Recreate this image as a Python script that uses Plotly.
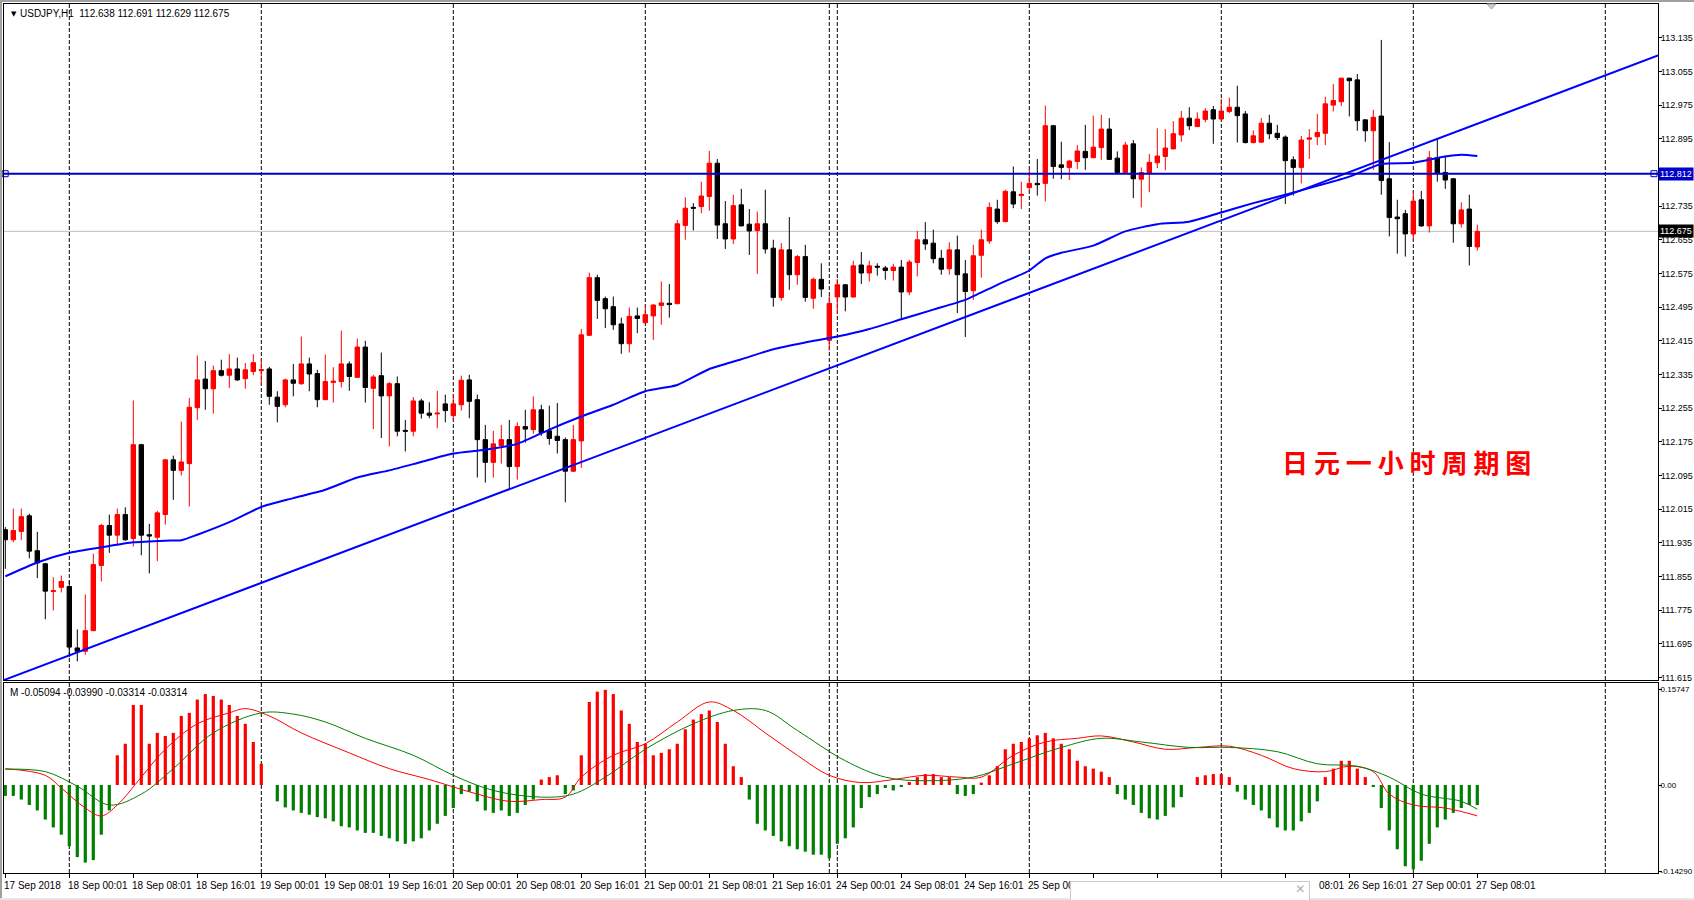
import plotly.graph_objects as go

# ---------------- DATA ----------------
open_ = [111.966,111.942,111.962,111.999,111.916,111.885,111.819,111.829,111.831,111.685,
111.677,111.726,111.881,111.976,111.953,112.002,111.945,112.168,111.954,111.948,
112.002,112.132,112.107,112.123,112.256,112.324,112.301,112.344,112.333,112.348,
112.325,112.342,112.344,112.348,112.281,112.263,112.322,112.313,112.360,112.337,
112.275,112.316,112.318,112.360,112.328,112.400,112.302,112.332,112.284,112.313,
112.202,112.200,112.272,112.243,112.241,112.265,112.237,112.263,112.322,112.275,
112.180,112.126,112.166,112.180,112.116,112.211,112.204,112.251,112.201,112.188,
112.180,112.105,112.177,112.428,112.565,112.515,112.496,112.455,112.408,112.474,
112.458,112.474,112.499,112.504,112.503,112.689,112.732,112.734,112.758,112.837,
112.693,112.657,112.738,112.692,112.677,112.693,112.635,112.518,112.631,112.572,
112.615,112.516,112.561,112.416,112.519,112.548,112.519,112.595,112.576,112.592,
112.588,112.582,112.590,112.531,112.601,112.655,112.647,112.611,112.586,112.631,
112.574,112.534,112.618,112.652,112.728,112.698,112.769,112.760,112.779,112.789,
112.789,112.926,112.833,112.827,112.841,112.865,112.850,112.874,112.918,112.849,
112.815,112.883,112.799,112.813,112.838,112.853,112.871,112.904,112.944,112.924,
112.941,112.964,112.942,112.960,112.970,112.954,112.886,112.887,112.932,112.908,
112.899,112.845,112.827,112.894,112.900,112.908,112.975,112.983,113.039,113.035,
112.940,112.914,112.949,112.800,112.709,112.717,112.669,112.750,112.688,112.850,
112.815,112.800,112.693,112.728,112.638]
high = [111.972,112.016,112.016,112.004,111.961,111.887,111.853,111.857,111.845,111.729,
111.812,111.909,111.980,112.002,112.016,112.019,112.273,112.170,111.980,112.011,
112.134,112.142,112.223,112.279,112.380,112.367,112.356,112.370,112.383,112.375,
112.362,112.383,112.372,112.353,112.295,112.325,112.360,112.425,112.375,112.346,
112.382,112.352,112.439,112.366,112.420,112.415,112.334,112.387,112.317,112.330,
112.227,112.281,112.277,112.269,112.296,112.287,112.287,112.332,112.334,112.287,
112.215,112.201,112.215,112.227,112.221,112.251,112.283,112.263,112.261,112.267,
112.185,112.215,112.443,112.577,112.572,112.520,112.520,112.470,112.494,112.494,
112.499,112.502,112.556,112.550,112.702,112.756,112.742,112.793,112.866,112.847,
112.747,112.762,112.776,112.728,112.722,112.774,112.655,112.647,112.709,112.619,
112.643,112.565,112.599,112.522,112.562,112.550,112.605,112.626,112.605,112.599,
112.593,112.598,112.607,112.607,112.676,112.697,112.679,112.631,112.649,112.665,
112.607,112.643,112.679,112.744,112.750,112.774,112.829,112.793,112.823,112.847,
112.974,112.928,112.888,112.845,112.880,112.928,112.950,112.952,112.944,112.865,
112.888,112.892,112.827,112.859,112.920,112.918,112.937,112.961,112.970,112.958,
112.968,112.973,112.990,112.993,113.021,112.961,112.915,112.944,112.952,112.928,
112.903,112.853,112.902,112.918,112.954,112.995,113.025,113.040,113.040,113.049,
112.941,112.964,113.130,112.887,112.750,112.726,112.771,112.771,112.866,112.895,
112.855,112.801,112.744,112.762,112.691]
low = [111.873,111.936,111.941,111.898,111.851,111.753,111.774,111.817,111.663,111.653,
111.669,111.725,111.843,111.911,111.928,111.940,111.926,111.905,111.862,111.891,
111.978,112.037,112.095,112.021,112.227,112.251,112.242,112.330,112.303,112.320,
112.301,112.333,112.309,112.263,112.221,112.257,112.283,112.310,112.295,112.257,
112.274,112.268,112.304,112.296,112.327,112.268,112.205,112.184,112.164,112.188,
112.152,112.188,112.230,112.231,112.207,112.221,112.227,112.249,112.231,112.090,
112.078,112.090,112.123,112.061,112.085,112.173,112.194,112.189,112.168,112.147,
112.031,112.103,112.113,112.426,112.467,112.445,112.441,112.384,112.387,112.433,
112.457,112.417,112.453,112.470,112.502,112.655,112.677,112.718,112.724,112.657,
112.633,112.645,112.687,112.619,112.574,112.622,112.496,112.510,112.536,112.548,
112.508,112.491,112.519,112.392,112.479,112.485,112.518,112.550,112.556,112.570,
112.560,112.558,112.466,112.523,112.568,112.631,112.599,112.572,112.572,112.481,
112.424,112.512,112.565,112.645,112.693,112.697,112.730,112.728,112.771,112.760,
112.746,112.800,112.799,112.797,112.823,112.821,112.849,112.845,112.845,112.813,
112.814,112.754,112.732,112.768,112.825,112.820,112.870,112.888,112.916,112.923,
112.934,112.883,112.941,112.956,112.886,112.884,112.884,112.886,112.894,112.892,
112.740,112.760,112.789,112.847,112.880,112.880,112.960,112.973,112.948,112.914,
112.888,112.821,112.762,112.663,112.622,112.615,112.651,112.686,112.672,112.793,
112.776,112.648,112.684,112.594,112.629]
close = [111.942,111.964,111.997,111.915,111.887,111.820,111.821,111.843,111.687,111.677,
111.726,111.883,111.976,111.953,112.002,111.942,112.168,111.953,111.951,112.006,
112.132,112.107,112.127,112.257,112.322,112.301,112.344,112.333,112.348,112.322,
112.346,112.363,112.346,112.283,112.259,112.322,112.314,112.360,112.336,112.275,
112.318,112.319,112.360,112.330,112.400,112.304,112.329,112.284,112.313,112.200,
112.200,112.272,112.243,112.238,112.243,112.249,112.265,112.321,112.271,112.180,
112.126,112.170,112.180,112.116,112.211,112.205,112.251,112.197,112.183,112.178,
112.105,112.180,112.429,112.565,112.511,112.491,112.453,112.408,112.473,112.468,
112.477,112.500,112.505,112.501,112.693,112.730,112.730,112.759,112.837,112.690,
112.657,112.736,112.688,112.676,112.693,112.633,112.518,112.631,112.572,112.615,
112.518,112.561,112.538,112.504,112.548,112.519,112.593,112.576,112.593,112.590,
112.582,112.590,112.531,112.602,112.655,112.645,112.610,112.585,112.631,112.572,
112.532,112.617,112.655,112.732,112.698,112.770,112.740,112.763,112.789,112.786,
112.926,112.829,112.827,112.842,112.866,112.850,112.875,112.918,112.846,112.815,
112.880,112.800,112.815,112.839,112.854,112.873,112.907,112.944,112.926,112.942,
112.961,112.942,112.961,112.970,112.950,112.886,112.902,112.932,112.907,112.898,
112.843,112.827,112.892,112.897,112.910,112.978,112.986,113.039,113.033,112.938,
112.914,112.946,112.796,112.708,112.705,112.669,112.747,112.688,112.850,112.813,
112.797,112.693,112.726,112.639,112.675]
bars = list(range(len(close)))

# moving average (blue curve), sampled points
ma_bars = [0,4,8,12,16,20,22,24,28,32,36,40,44,48,52,56,60,64,68,72,76,80,84,88,92,96,100,
           104,108,112,116,120,124,128,130,132,136,140,144,148,152,156,160,164,168,172,176,180,182,184]
ma_vals = [111.855,111.888,111.911,111.924,111.936,111.940,111.941,111.954,111.984,112.020,
           112.041,112.061,112.090,112.107,112.127,112.147,112.156,112.170,112.204,112.235,
           112.263,112.295,112.310,112.348,112.371,112.395,112.411,112.425,112.443,112.466,
           112.489,112.512,112.548,112.582,112.611,112.624,112.641,112.675,112.692,112.698,
           112.720,112.742,112.762,112.783,112.805,112.835,112.838,112.853,112.857,112.854]

trend_bars = [0, 206.6]
trend_vals = [111.610, 113.093]
hline_price = 112.812
bid_price = 112.675

hist = [-0.018,-0.018,-0.024,-0.033,-0.042,-0.057,-0.070,-0.082,-0.101,-0.119,-0.128,-0.124,-0.082,-0.042,
0.049,0.068,0.132,0.132,0.068,0.086,0.081,0.086,0.114,0.119,0.141,0.150,0.147,0.141,0.132,0.114,0.101,0.071,0.035,0.000,
-0.027,-0.037,-0.042,-0.046,-0.049,-0.053,-0.055,-0.060,-0.068,-0.070,-0.075,-0.079,-0.079,-0.084,-0.088,-0.093,-0.097,-0.093,-0.088,-0.075,-0.064,-0.051,-0.038,-0.015,
-0.011,-0.027,-0.042,-0.046,-0.042,-0.051,-0.046,-0.033,-0.024,0.009,0.013,0.016,-0.015,-0.009,
0.049,0.137,0.154,0.157,0.150,0.123,0.101,0.071,0.068,0.049,0.053,0.059,0.068,0.092,0.108,0.117,0.123,0.104,0.068,0.031,0.013,
-0.024,-0.064,-0.075,-0.084,-0.093,-0.101,-0.106,-0.110,-0.115,-0.115,-0.121,-0.097,-0.088,-0.070,-0.038,-0.020,-0.015,-0.005,-0.009,-0.002,
0.005,0.013,0.018,0.018,0.013,0.013,-0.015,-0.018,-0.015,0.004,0.016,0.031,0.059,0.068,0.071,0.077,0.082,0.086,0.077,0.068,0.059,0.040,0.031,0.027,0.022,0.013,
-0.015,-0.024,-0.033,-0.046,-0.055,-0.057,-0.051,-0.037,-0.020,0.000,0.013,0.016,0.018,0.018,0.013,
-0.011,-0.024,-0.033,-0.042,-0.055,-0.070,-0.075,-0.075,-0.060,-0.046,-0.027,
0.013,0.027,0.040,0.040,0.027,0.013,-0.002,
-0.038,-0.075,-0.106,-0.134,-0.139,-0.125,-0.097,-0.070,-0.057,-0.046,-0.038,-0.033,-0.03314]

red_line_bars = [0,5,7,10,12,14,17,20,24,28,30,33,37,43,48,53,59,63,67,70,72,76,80,84,88,91,95,99,
                 103,107,111,115,119,122,126,130,134,137,141,145,149,153,157,161,165,168,171,173,176,180,184]
red_line_vals = [0.027,0.016,-0.005,-0.038,-0.051,-0.033,0.013,0.059,0.101,0.119,0.126,0.114,0.086,0.053,
                 0.027,0.009,-0.015,-0.027,-0.024,-0.020,0.013,0.049,0.068,0.104,0.137,0.123,0.086,0.049,
                 0.016,0.004,0.009,0.016,0.013,0.013,0.049,0.071,0.077,0.081,0.071,0.059,0.062,0.064,
                 0.049,0.027,0.022,0.031,0.022,-0.015,-0.033,-0.038,-0.05094]
green_line_bars = [0,5,9,13,17,21,26,32,36,40,45,51,56,61,67,71,75,80,86,91,95,99,105,110,115,121,
                   126,132,137,142,148,153,159,164,169,173,177,182,184]
green_line_vals = [0.026,0.022,-0.002,-0.033,-0.015,0.027,0.086,0.119,0.117,0.104,0.077,0.049,0.016,
                   -0.009,-0.020,-0.015,0.013,0.059,0.101,0.123,0.123,0.090,0.040,0.013,0.007,0.013,
                   0.035,0.062,0.077,0.071,0.062,0.062,0.055,0.035,0.031,0.013,-0.015,-0.027,-0.03990]

# time-axis labels (those hidden under the notification box are omitted)
time_label_bars = [0,8,16,24,32,40,48,56,64,72,80,88,96,104,112,120,128,168,176,184]
time_labels = ["17 Sep 2018","18 Sep 00:01","18 Sep 08:01","18 Sep 16:01","19 Sep 00:01","19 Sep 08:01",
               "19 Sep 16:01","20 Sep 00:01","20 Sep 08:01","20 Sep 16:01","21 Sep 00:01","21 Sep 08:01",
               "21 Sep 16:01","24 Sep 00:01","24 Sep 08:01","24 Sep 16:01","25 Sep 00:01",
               "26 Sep 16:01","27 Sep 00:01","27 Sep 08:01"]
# label partly hidden by the notification box: only its visible tail is drawn
partial_label_bar = 160
partial_label_hidden = "26 Sep "
partial_label_visible = "08:01"
time_tick_bars = [0,8,16,24,32,40,48,56,64,72,80,88,96,104,112,120,128,136,144,152,160,168,176,184]
separator_bars = [8, 32, 56, 80, 103, 104, 128, 152, 176, 200]

price_ticks = [111.615,111.695,111.775,111.855,111.935,112.015,112.095,112.175,112.255,112.335,
               112.415,112.495,112.575,112.655,112.735,112.815,112.895,112.975,113.055,113.135]
macd_ticks = [0.15747, 0.0, -0.14290]
macd_ticktext = ["0.15747", "0.00", "-0.14290"]

header_text = "USDJPY,H1  112.638 112.691 112.629 112.675"
macd_header = "M -0.05094 -0.03990 -0.03314 -0.03314"
title_cn = "日 元 一 小 时 周 期 图"

assert len(open_) == len(high) == len(low) == len(close) == len(hist) == 185

# ---------------- GEOMETRY ----------------
W, H = 1694, 900
ML, MR, MT, MB = 4, 36, 4, 27
PW, PH = W - ML - MR, H - MT - MB
PX_PER_BAR = 8.0
x_left = -0.1625
x_range = [x_left, x_left + PW / PX_PER_BAR]
price_dom = [(H - MB - 680) / PH, 1.0]
macd_dom = [0.0, (H - MB - 683) / PH]
price_range = [111.6088, 113.2153]
macd_range = [-0.1452, 0.1683]

def px2x(px):
    return (px - ML) / PW

def py2y(py):
    return (H - MB - py) / PH

# Liberation Sans advance widths (em) for the hidden part of the partial label
ADV = {"2": 0.556, "6": 0.556, " ": 0.278, "S": 0.667, "e": 0.556, "p": 0.556}

FONT = "Liberation Sans, Arial, sans-serif"
AXFONT = dict(family=FONT, size=9, color="black")

fig = go.Figure()

fig.add_trace(go.Candlestick(
    x=bars, open=open_, high=high, low=low, close=close,
    increasing=dict(line=dict(color="#FF0000", width=1), fillcolor="#FF0000"),
    decreasing=dict(line=dict(color="#000000", width=1), fillcolor="#000000"),
    whiskerwidth=0, xaxis="x", yaxis="y", hoverinfo="skip", showlegend=False))

fig.add_trace(go.Scatter(x=ma_bars, y=ma_vals, mode="lines",
                         line=dict(color="#0000FF", width=2, shape="spline", smoothing=0.6),
                         xaxis="x", yaxis="y", hoverinfo="skip", showlegend=False))
slope = (trend_vals[1] - trend_vals[0]) / (trend_bars[1] - trend_bars[0])
tx = [x_range[0], x_range[1]]
ty = [trend_vals[0] + slope * (v - trend_bars[0]) for v in tx]
fig.add_trace(go.Scatter(x=tx, y=ty, mode="lines", line=dict(color="#0000FF", width=2),
                         xaxis="x", yaxis="y", hoverinfo="skip", showlegend=False))
fig.add_trace(go.Scatter(x=[x_range[0] + 0.15, x_range[1] - 0.5], y=[hline_price, hline_price],
                         mode="markers", marker=dict(symbol="square", size=6, color="white",
                                                     line=dict(color="#0000C8", width=1)),
                         xaxis="x", yaxis="y", hoverinfo="skip", showlegend=False, cliponaxis=False))

fig.add_trace(go.Bar(x=bars, y=hist, width=0.4,
                     marker=dict(color=["#FF0000" if v >= 0 else "#008000" for v in hist], line=dict(width=0)),
                     xaxis="x2", yaxis="y2", hoverinfo="skip", showlegend=False))
fig.add_trace(go.Scatter(x=red_line_bars, y=red_line_vals, mode="lines", line=dict(color="#FF0000", width=1, shape="spline"),
                         xaxis="x2", yaxis="y2", hoverinfo="skip", showlegend=False))
fig.add_trace(go.Scatter(x=green_line_bars, y=green_line_vals, mode="lines", line=dict(color="#008000", width=1, shape="spline"),
                         xaxis="x2", yaxis="y2", hoverinfo="skip", showlegend=False))

shapes = []
for b in separator_bars:
    shapes.append(dict(type="line", xref="x", yref="y domain", x0=b, x1=b, y0=0, y1=1,
                       line=dict(color="black", width=1, dash="4px,2px"), layer="below"))
    shapes.append(dict(type="line", xref="x2", yref="y2 domain", x0=b, x1=b, y0=0, y1=1,
                       line=dict(color="black", width=1, dash="4px,2px"), layer="below"))
shapes.append(dict(type="line", xref="x domain", yref="y", x0=0, x1=1, y0=bid_price, y1=bid_price,
                   line=dict(color="#C0C0C0", width=1), layer="below"))
shapes.append(dict(type="line", xref="x domain", yref="y", x0=0, x1=1, y0=hline_price, y1=hline_price,
                   line=dict(color="#0000C8", width=2), layer="above"))
shapes.append(dict(type="rect", xref="paper", yref="paper", x0=px2x(0), x1=px2x(W), y0=py2y(2), y1=py2y(0),
                   line=dict(width=0), fillcolor="#A0A0A0", layer="above"))
shapes.append(dict(type="rect", xref="paper", yref="paper", x0=px2x(0), x1=px2x(2), y0=py2y(H), y1=py2y(0),
                   line=dict(width=0), fillcolor="#A0A0A0", layer="above"))
shapes.append(dict(type="rect", xref="paper", yref="paper", x0=px2x(0), x1=px2x(W), y0=py2y(H), y1=py2y(898),
                   line=dict(width=0), fillcolor="#E6E6E6", layer="above"))
shapes.append(dict(type="path", xref="paper", yref="paper",
                   path="M %f %f L %f %f L %f %f Z" % (px2x(1487), py2y(4), px2x(1496), py2y(4), px2x(1491.5), py2y(9)),
                   line=dict(color="#A0A0A0", width=1), fillcolor="#D0D0D0", layer="above"))

annotations = []
annotations.append(dict(xref="paper", yref="paper", x=0, y=1, xanchor="left", yanchor="top",
                        xshift=5, yshift=-4, text="▼", showarrow=False,
                        font=dict(family="DejaVu Sans", size=7, color="black")))
annotations.append(dict(xref="paper", yref="paper", x=0, y=1, xanchor="left", yanchor="top",
                        xshift=14, yshift=-2, text=header_text, showarrow=False,
                        font=dict(family=FONT, size=10, color="black")))
annotations.append(dict(xref="paper", yref="paper", x=0, y=macd_dom[1], xanchor="left", yanchor="top",
                        xshift=4, yshift=-2, text=macd_header, showarrow=False,
                        font=dict(family=FONT, size=10, color="black")))
annotations.append(dict(xref="paper", yref="paper", x=px2x(1406), y=py2y(462), xanchor="center", yanchor="middle",
                        text="<b>" + title_cn + "</b>", showarrow=False,
                        font=dict(family="Noto Sans CJK SC", size=26, color="#FF0000")))
for b, t in zip(time_label_bars, time_labels):
    annotations.append(dict(xref="x2", yref="paper", x=b, y=0, xanchor="left", yanchor="top",
                            xshift=-3, yshift=-5, text=t, showarrow=False,
                            font=dict(family=FONT, size=10, color="black")))
hidden_w = sum(ADV[c] for c in partial_label_hidden) * 10
annotations.append(dict(xref="x2", yref="paper", x=partial_label_bar, y=0, xanchor="left", yanchor="top",
                        xshift=-3 + hidden_w, yshift=-5, text=partial_label_visible, showarrow=False,
                        font=dict(family=FONT, size=10, color="black")))
annotations.append(dict(xref="paper", yref="y", x=1, y=hline_price, xanchor="left", yanchor="middle",
                        xshift=0, text="112.812", showarrow=False, bgcolor="#0000C8", borderpad=1,
                        font=dict(family=FONT, size=9, color="white")))
annotations.append(dict(xref="paper", yref="y", x=1, y=bid_price, xanchor="left", yanchor="middle",
                        xshift=0, text="112.675", showarrow=False, bgcolor="#000000", borderpad=1,
                        font=dict(family=FONT, size=9, color="white")))
annotations.append(dict(xref="paper", yref="paper", x=px2x(1070), y=py2y(881), xanchor="left", yanchor="top",
                        width=238, height=22, align="right", valign="top", text="✕ ", showarrow=False,
                        bgcolor="white", bordercolor="#C8C8C8", borderwidth=1, borderpad=0,
                        font=dict(family="DejaVu Sans", size=12, color="#B0B0B0")))

axis_common = dict(showgrid=False, zeroline=False, showline=True, mirror=True,
                   linecolor="black", linewidth=1, fixedrange=True, automargin=False)

fig.update_layout(
    width=W, height=H, margin=dict(l=ML, r=MR, t=MT, b=MB, pad=0, autoexpand=False),
    paper_bgcolor="white", plot_bgcolor="white",
    showlegend=False, hovermode=False, boxgap=0.45, boxgroupgap=0, barmode="overlay",
    font=dict(family=FONT, size=10, color="black"),
    xaxis=dict(domain=[0, 1], range=x_range, anchor="y", showticklabels=False, ticks="",
               rangeslider=dict(visible=False), **axis_common),
    yaxis=dict(domain=price_dom, range=price_range, side="right", anchor="x",
               tickvals=price_ticks,
               ticktext=["" if abs(v - hline_price) < 0.01 else "%.3f" % v for v in price_ticks],
               ticks="outside", ticklen=3, tickcolor="black", ticklabelstandoff=-3,
               tickfont=AXFONT, **axis_common),
    xaxis2=dict(domain=[0, 1], range=x_range, anchor="y2", showticklabels=False,
                tickvals=time_tick_bars, ticks="outside", ticklen=4, tickcolor="black", **axis_common),
    yaxis2=dict(domain=macd_dom, range=macd_range, side="right", anchor="x2",
                tickvals=macd_ticks, ticktext=macd_ticktext, ticks="outside", ticklen=3, tickcolor="black",
                ticklabelstandoff=-3, tickfont=dict(family=FONT, size=8, color="black"), **axis_common),
    shapes=shapes, annotations=annotations,
)

fig.write_html("out.html", config={"displayModeBar": False})
